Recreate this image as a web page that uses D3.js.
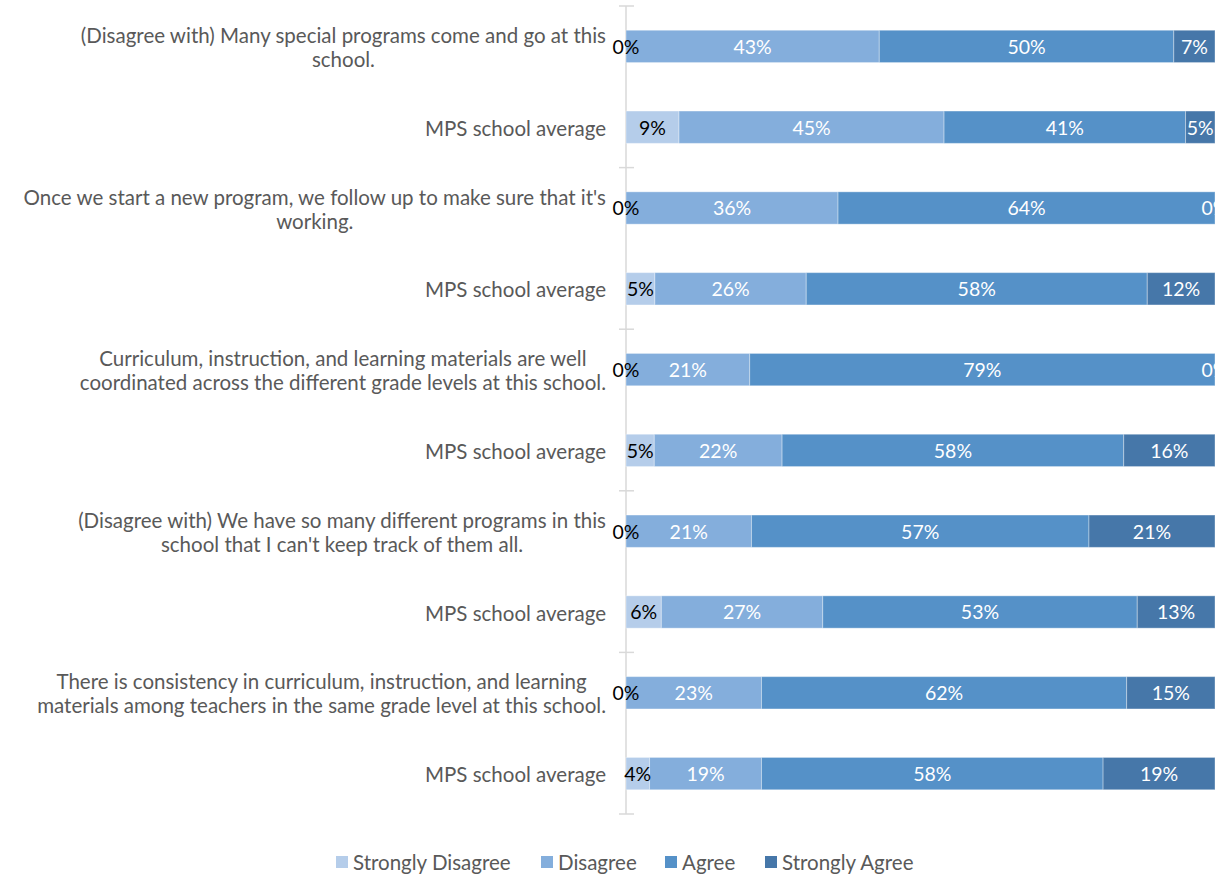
<!DOCTYPE html>
<html>
<head>
<meta charset="utf-8">
<script src="https://cdn.jsdelivr.net/npm/d3@7"></script>
<style>
  body { margin: 0; background: #fff; }
  svg { display: block; font-family: "Lato", "Noto Sans", sans-serif; }
</style>
</head>
<body>
<div id="chart-area"></div>
<script>
// row labels (each entry is the wrapped lines of one label)
let categories = [
    ["(Disagree with) Many special programs come and go at this", "school."],
    ["MPS school average"],
    ["Once we start a new program, we follow up to make sure that it's", "working."],
    ["MPS school average"],
    ["Curriculum, instruction, and learning materials are well", "coordinated across the different grade levels at this school."],
    ["MPS school average"],
    ["(Disagree with) We have so many different programs in this", "school that I can't keep track of them all."],
    ["MPS school average"],
    ["There is consistency in curriculum, instruction, and learning", "materials among teachers in the same grade level at this school."],
    ["MPS school average"]
];

// shares in percent (labels show them rounded)
let seriesNames = ["Strongly Disagree", "Disagree", "Agree", "Strongly Agree"];
let stronglyDisagree = [0, 9, 0, 4.9, 0, 4.8, 0, 6.0, 0, 4];
let disagree         = [43, 45, 36, 25.7, 21, 21.7, 21.3, 27.4, 23, 19];
let agree            = [50, 41, 64, 57.9, 79, 58.0, 57.3, 53.4, 62, 58];
let stronglyAgree    = [7, 5, 0, 11.5, 0, 15.5, 21.4, 13.2, 15, 19];

let colors = ["#b5cdea", "#84aedc", "#5591c8", "#4677a9"];
let labelColors = ["#000", "#fff", "#fff", "#fff"];

let width = 1215, height = 875;
let axisX = 626, plotTop = 6, plotBottom = 814;

let svg = d3.select("#chart-area")
    .append("svg")
        .attr("width", width)
        .attr("height", height);

// build table for stacking
let table = categories.map((c, i) => ({
    idx: i,
    "Strongly Disagree": stronglyDisagree[i],
    "Disagree": disagree[i],
    "Agree": agree[i],
    "Strongly Agree": stronglyAgree[i]
}));

let stacked = d3.stack().keys(seriesNames)(table);

let x = d3.scaleLinear()
    .domain([0, 100])
    .range([axisX, axisX + 589]);

let y = d3.scaleBand()
    .domain(d3.range(categories.length))
    .range([plotTop, plotBottom])
    .paddingInner(0.6)
    .paddingOuter(0.3);

let step = y.step();

// category axis line + cross ticks every 2 rows
svg.append("line")
    .attr("x1", axisX).attr("x2", axisX)
    .attr("y1", plotTop).attr("y2", plotBottom)
    .attr("stroke", "#d9d9d9")
    .attr("stroke-width", 1.5);

svg.selectAll(".tick-mark")
    .data(d3.range(0, categories.length + 1, 2))
    .enter().append("line")
        .attr("class", "tick-mark")
        .attr("x1", axisX - 7).attr("x2", axisX + 8)
        .attr("y1", d => plotTop + d * step)
        .attr("y2", d => plotTop + d * step)
        .attr("stroke", "#d9d9d9")
        .attr("stroke-width", 1.5);

// bars
let groups = svg.selectAll(".series")
    .data(stacked)
    .enter().append("g")
        .attr("class", "series")
        .attr("fill", (d, i) => colors[i]);

groups.selectAll("rect")
    .data(d => d)
    .enter().append("rect")
        .attr("x", d => x(d[0]))
        .attr("y", d => y(d.data.idx))
        .attr("width", d => x(d[1]) - x(d[0]))
        .attr("height", y.bandwidth())
        .attr("stroke", "#ffffff")
        .attr("stroke-opacity", 0.35)
        .attr("stroke-width", 1);

// data labels
stacked.forEach((s, si) => {
    svg.append("g").selectAll("text")
        .data(s)
        .enter().append("text")
            .attr("x", d => (x(d[0]) + x(d[1])) / 2)
            .attr("y", d => y(d.data.idx) + y.bandwidth() / 2)
            .attr("dy", "0.38em")
            .attr("text-anchor", "middle")
            .attr("font-size", "19.5px")
            .attr("fill", labelColors[si])
            .text(d => Math.round(d[1] - d[0]) + "%");
});

// row labels: block right aligned, lines centred in block
let labelRight = 606;
categories.forEach((lines, i) => {
    let cy = y(i) + y.bandwidth() / 2;
    let g = svg.append("g");
    let texts = lines.map((ln, li) => g.append("text")
        .attr("font-size", "20.5px")
        .attr("fill", "#595959")
        .attr("text-anchor", "middle")
        .attr("dy", "0.42em")
        .attr("y", cy + (li - (lines.length - 1) / 2) * 24)
        .text(ln));
    let w = d3.max(texts, t => t.node().getComputedTextLength());
    texts.forEach(t => t.attr("x", labelRight - w / 2));
});

// legend
let legendX = [336, 541, 665, 765];
let legend = svg.append("g");
seriesNames.forEach((name, i) => {
    legend.append("rect")
        .attr("x", legendX[i])
        .attr("y", 856)
        .attr("width", 12)
        .attr("height", 12)
        .attr("fill", colors[i]);
    legend.append("text")
        .attr("x", legendX[i] + 17)
        .attr("y", 862)
        .attr("dy", "0.38em")
        .attr("font-size", "20.5px")
        .attr("fill", "#595959")
        .text(name);
});
</script>
</body>
</html>
